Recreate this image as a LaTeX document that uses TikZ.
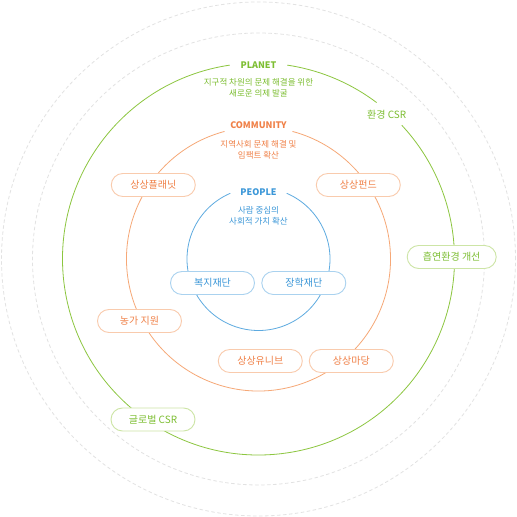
\documentclass[tikz,border=0pt]{standalone}
\usepackage{fontspec}
\setmainfont{Noto Sans CJK KR}
\definecolor{planetgreen}{HTML}{8CC63F}
\definecolor{planettext}{HTML}{7DBE32}
\definecolor{planetpill}{HTML}{CDE5A6}
\definecolor{commorange}{HTML}{F6A877}
\definecolor{commtext}{HTML}{F08148}
\definecolor{commpill}{HTML}{F9CBAD}
\definecolor{peopleblue}{HTML}{5DAAE0}
\definecolor{peopletext}{HTML}{3B97D8}
\definecolor{peoplepill}{HTML}{AAD2EF}
\definecolor{ringgray}{HTML}{E2E2E2}
\tikzset{
  ring/.style={ringgray, line width=0.8pt, dash pattern=on 3pt off 3pt},
  pill/.style={draw, fill=white, line width=0.9pt, rounded corners=11.5pt,
    minimum width=84pt, minimum height=23pt, inner sep=0pt, font=\fontsize{10}{12}\selectfont},
  heading/.style={font=\fontsize{9}{11}\selectfont\bfseries},
  subtext/.style={align=center, font=\fontsize{8.5}{10.6}\selectfont}
}
\begin{document}
\begin{tikzpicture}[x=1pt, y=1pt, line cap=round]
    \fill[white] (0,0) rectangle (517,517);
    \useasboundingbox (0,0) rectangle (517,517);
    \coordinate (C) at (258.5,258);

    % Outer rings
    \draw[ring] (C) circle (257);
    \draw[ring] (C) circle (226);

    % Circles (gaps for the headings)
    \draw[planetgreen, line width=0.8pt] (C) ++(98.5:196) arc[start angle=98.5, end angle=403, radius=196];
    \draw[planetgreen, line width=0.8pt] (C) ++(53:196) arc[start angle=53, end angle=81.5, radius=196];
    \draw[commorange, line width=0.8pt] (C) ++(105:132) arc[start angle=105, end angle=435, radius=132];
    \draw[peopleblue, line width=0.8pt] (C) ++(113.4:71.5) arc[start angle=113.4, end angle=426.6, radius=71.5];

    % Headings
    \node[heading, text=planettext] (planet) at (258.5,452) {PLANET};
    \node[subtext, text=planettext] (planetsub) at (258.5,429) {지구적 차원의 문제 해결을 위한\\새로운 의제 발굴};
    \node[heading, text=commtext] (community) at (258.5,392) {COMMUNITY};
    \node[subtext, text=commtext] (communitysub) at (258.5,367) {지역사회 문제 해결 및\\임팩트 확산};
    \node[heading, text=peopletext] (people) at (258.5,325.3) {PEOPLE};
    \node[subtext, text=peopletext] (peoplesub) at (258.5,301.2) {사람 중심의\\사회적 가치 확산};
    \node[text=planettext, font=\fontsize{10}{12}\selectfont] (envcsr) at (386.7,402) {환경 CSR};

    % Pills (planet)
    \node[pill, draw=planetpill, text=planettext, minimum width=89pt] (smoke) at (451.7,260) {흡연환경 개선};
    \node[pill, draw=planetpill, text=planettext] (global) at (153,97.5) {글로벌 CSR};

    % Pills (community)
    \foreach \x/\y/\name/\txt in {153.3/332/planetnet/상상플래닛, 358.3/332/fund/상상펀드,
        139.5/196/farm/농가 지원, 260.3/156/univ/상상유니브, 351.3/156/madang/상상마당} {
        \node[pill, draw=commpill, text=commtext] (\name) at (\x,\y) {\txt};
    }

    % Pills (people)
    \foreach \x/\y/\name/\txt in {212.5/234/welfare/복지재단, 303.8/234/scholar/장학재단} {
        \node[pill, draw=peoplepill, text=peopletext] (\name) at (\x,\y) {\txt};
    }
\end{tikzpicture}
\end{document}
